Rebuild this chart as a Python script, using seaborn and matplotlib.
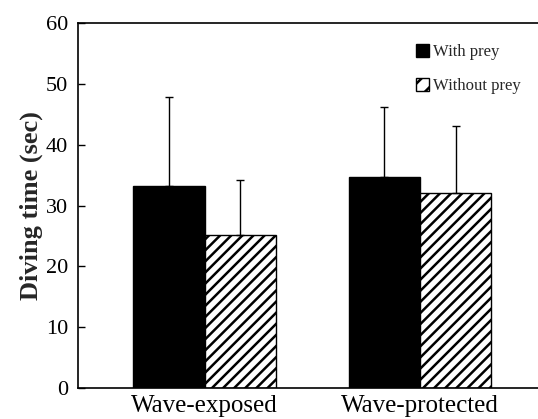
import numpy as np
import pandas as pd
import matplotlib
matplotlib.use('Agg')
import matplotlib.pyplot as plt
import seaborn as sns

# ── Data ──────────────────────────────────────────────────────────────────────
sites = ['Wave-exposed', 'Wave-protected']
groups = ['With prey', 'Without prey']
mean_with = [33.2, 34.7]
mean_without = [25.1, 32.1]
sd_with = [14.7, 11.5]
sd_without = [9.1, 11.0]

df = pd.DataFrame({
    'site': sites * 2,
    'group': [groups[0]] * 2 + [groups[1]] * 2,
    'time': mean_with + mean_without,
    'sd': sd_with + sd_without,
})

sns.set_theme(style='white')
plt.rcParams['font.family'] = ['Liberation Serif', 'DejaVu Serif']
plt.rcParams['hatch.linewidth'] = 1.8

fig = plt.figure(figsize=(5.38, 4.19), dpi=100)
ax = fig.add_axes([0.145, 0.074, 0.86, 0.871])

sns.barplot(data=df, x='site', y='time', hue='group', order=sites,
            hue_order=groups, palette=['black', 'white'], width=0.664,
            errorbar=None, edgecolor='black', linewidth=1.0, saturation=1,
            ax=ax)

# hatch the "without prey" bars, then one-sided error bars
for i, (cont, sds) in enumerate(zip(ax.containers, [sd_with, sd_without])):
    for bar, sd in zip(cont, sds):
        if i == 1:
            bar.set_hatch('///')
        x = bar.get_x() + bar.get_width() / 2
        ax.errorbar(x, bar.get_height(), yerr=[[0], [sd]], fmt='none',
                    ecolor='black', elinewidth=1.0, capsize=3, capthick=1.0)

ax.set_ylim(0, 60)
ax.set_xlim(-0.589, 1.561)
ax.set_yticks(range(0, 61, 10))
ax.set_xlabel('')
ax.set_ylabel('Diving time (sec)', fontsize=19, fontweight='bold', labelpad=2)
ax.tick_params(axis='y', direction='in', length=5, width=1, labelsize=16,
               left=True, pad=7, colors='black')
ax.tick_params(axis='x', length=0, labelsize=18, pad=5, colors='black')

for s in ['top', 'bottom', 'left']:
    ax.spines[s].set_color('black')
    ax.spines[s].set_linewidth(1.2)
ax.spines['right'].set_visible(False)

leg = ax.legend(loc='upper left', bbox_to_anchor=(0.716, 0.96), frameon=False,
                fontsize=12, handlelength=0.8, handleheight=0.8,
                handletextpad=0.2, labelspacing=1.05, borderaxespad=0)
leg.legend_handles[1].set_hatch('//')

plt.savefig('out.png', dpi=100)
